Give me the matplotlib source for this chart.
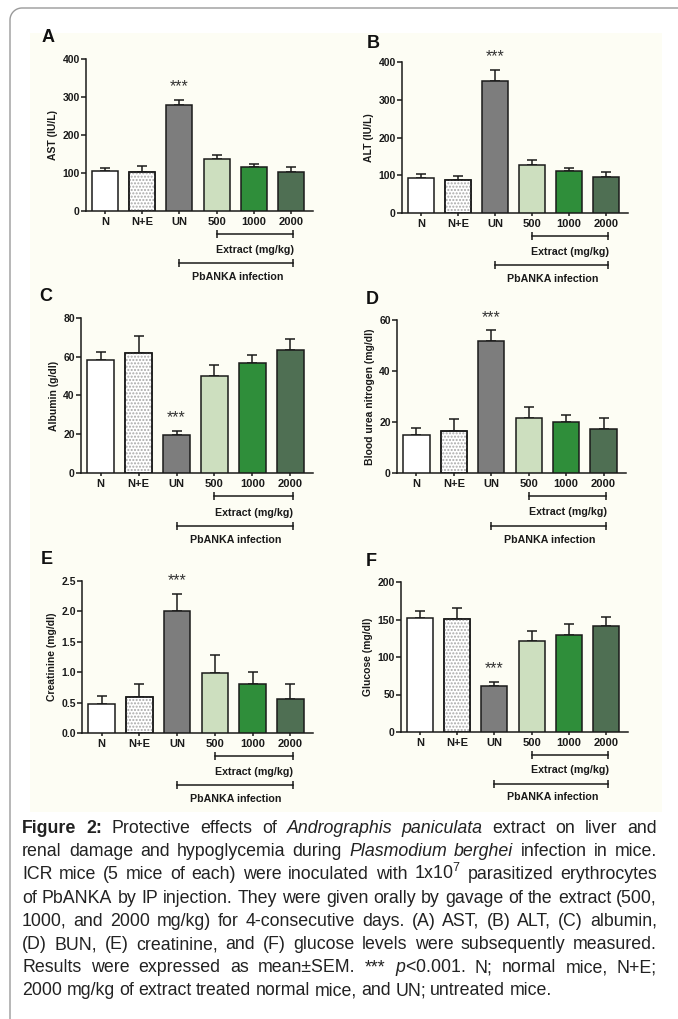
import numpy as np
import matplotlib.pyplot as plt
from matplotlib import font_manager
from matplotlib.lines import Line2D
from matplotlib.patches import Rectangle
from matplotlib.transforms import blended_transform_factory

W, H = 678, 1019

# groups on the x axis and bar fill colours
groups = ['N', 'N+E', 'UN', '500', '1000', '2000']
bar_colors = ['#ffffff', '#ffffff', '#7d7d7d', '#cddfbf', '#2f8e3a', '#4f6f53']

# values (mean, SEM)
ast_mean = [104, 103, 278, 138, 116, 103]
ast_sem = [9, 15, 14, 9, 9, 12]
alt_mean = [94, 88, 350, 127, 110, 95]
alt_sem = [8, 10, 30, 14, 8, 13]
alb_mean = [58.4, 61.8, 19.5, 50.1, 56.6, 63.4]
alb_sem = [4.3, 8.8, 2.3, 5.7, 4.5, 5.9]
bun_mean = [15.0, 16.6, 51.6, 21.7, 20.0, 17.4]
bun_sem = [2.8, 4.4, 4.3, 4.3, 2.7, 4.3]
cre_mean = [0.47, 0.60, 2.01, 0.99, 0.80, 0.56]
cre_sem = [0.14, 0.20, 0.28, 0.29, 0.21, 0.24]
glu_mean = [152, 151, 62, 122, 129, 142]
glu_sem = [10, 15, 4.5, 13, 14.5, 11.5]

installed = {f.name for f in font_manager.fontManager.ttflist}
CAP_FONT = 'Liberation Sans Narrow' if 'Liberation Sans Narrow' in installed else 'Liberation Sans'

plt.rcParams['font.family'] = ['Liberation Sans', 'DejaVu Sans']
plt.rcParams['mathtext.fontset'] = 'custom'
plt.rcParams['mathtext.rm'] = CAP_FONT
plt.rcParams['mathtext.it'] = CAP_FONT + ':italic'
plt.rcParams['mathtext.bf'] = CAP_FONT + ':bold'

INK = '#1a1a1a'


def px_rect(l, t, r, b):
    return [l / W, 1 - b / H, (r - l) / W, (b - t) / H]


def draw_panel(fig, rect, letter, letter_xy, ylabel, means, sems, ymax, ystep, fmt):
    ax = fig.add_axes(px_rect(*rect))
    ax.set_facecolor('none')
    x = np.arange(len(groups))

    ax.errorbar(x, means, yerr=[np.zeros(len(x)), sems], fmt='none', ecolor=INK,
                elinewidth=1.1, capsize=3.5, capthick=1.1, zorder=2)
    ax.bar(x, means, width=0.7, color=bar_colors, edgecolor=INK, linewidth=1.1, zorder=3)
    # dotted fill of the N+E bar
    ax.bar(x[1], means[1], width=0.7, fill=False, edgecolor='#a8a8a8', hatch='.....',
           linewidth=0, zorder=4)
    ax.bar(x[1], means[1], width=0.7, fill=False, edgecolor=INK, linewidth=1.1, zorder=5)

    top = means[2] + sems[2]
    ax.annotate('***', (2, top), xytext=(0, 4), textcoords='offset points',
                ha='center', va='bottom', fontsize=11.5, color='#333333')

    ax.set_xlim(-0.52, 5.6)
    ax.set_ylim(0, ymax)
    ticks = np.arange(0, ymax + ystep / 2, ystep)
    ax.set_yticks(ticks, [fmt % v for v in ticks], fontweight='bold', fontsize=7.5)
    ax.set_xticks(x, groups, fontweight='bold', fontsize=8)
    for side in ['top', 'right']:
        ax.spines[side].set_visible(False)
    for side in ['left', 'bottom']:
        ax.spines[side].set_linewidth(1.1)
        ax.spines[side].set_color(INK)
    ax.tick_params(axis='y', length=3.5, width=1.1, pad=1, colors=INK)
    ax.tick_params(axis='x', length=2.5, width=1.1, pad=2, colors=INK)
    ax.set_ylabel(ylabel, fontsize=7.5, fontweight='bold', labelpad=3, color=INK)

    # group brackets under the axis
    tr = blended_transform_factory(ax.transData, ax.transAxes)
    for x0, yb, label, xl, yl in [(3, -0.15, 'Extract (mg/kg)', 4.04, -0.255),
                                  (2, -0.345, 'PbANKA infection', 3.56, -0.435)]:
        ax.plot([x0, 5.07], [yb, yb], color=INK, lw=1.1, transform=tr, clip_on=False)
        ax.plot([x0, 5.07], [yb, yb], ls='none', marker='|', ms=6, mew=1.1,
                color=INK, transform=tr, clip_on=False)
        ax.text(xl, yl, label, transform=tr, ha='center', va='center',
                fontsize=7.7, fontweight='bold', color=INK)

    fig.text(letter_xy[0] / W, 1 - letter_xy[1] / H, letter, fontsize=13,
             fontweight='bold', ha='center', va='center', color='#111111')
    return ax


fig = plt.figure(figsize=(W / 100, H / 100), dpi=100)
fig.patch.set_facecolor('white')

# light cream background behind the panels
fig.add_artist(Rectangle((30 / W, 1 - 812 / H), 632 / W, 779 / H, transform=fig.transFigure,
                         facecolor='#fdfdf4', edgecolor='none', zorder=-5))

# rounded frame (top and left edges visible)
rad = 12
t = np.linspace(np.pi, np.pi / 2, 20)
fx = np.concatenate([[10], 10 + rad + rad * np.cos(t), [W + 20]])
fy = np.concatenate([[H + 20], 8 + rad - rad * np.sin(t), [8]])
fig.add_artist(Line2D(fx / W, 1 - fy / H, color='#9a9a9a', lw=1.0, transform=fig.transFigure))

draw_panel(fig, (86, 59, 313, 211), 'A', (48, 38), 'AST (IU/L)', ast_mean, ast_sem, 400, 100, '%d')
draw_panel(fig, (402, 62, 628, 213), 'B', (373, 43), 'ALT (IU/L)', alt_mean, alt_sem, 400, 100, '%d')
draw_panel(fig, (81, 318, 313, 473), 'C', (46, 297), 'Albumin (g/dl)', alb_mean, alb_sem, 80, 20, '%d')
draw_panel(fig, (397, 320, 626, 473), 'D', (372, 299), 'Blood urea nitrogen (mg/dl)', bun_mean, bun_sem, 60, 20, '%d')
draw_panel(fig, (82, 581, 313, 733), 'E', (47, 559), 'Creatinine (mg/dl)', cre_mean, cre_sem, 2.5, 0.5, '%.1f')
draw_panel(fig, (401, 582, 628, 732), 'F', (371, 562), 'Glucose (mg/dl)', glu_mean, glu_sem, 200, 50, '%d')

# caption: words prefixed with "b:" are bold, "i:" italic
caption = [
    "b:Figure b:2: Protective effects of i:Andrographis i:paniculata extract on liver and",
    "renal damage and hypoglycemia during i:Plasmodium i:berghei infection in mice.",
    "ICR mice (5 mice of each) were inoculated with 1x10${}^7$ parasitized erythrocytes",
    "of PbANKA by IP injection. They were given orally by gavage of the extract (500,",
    "1000, and 2000 mg/kg) for 4-consecutive days. (A) AST, (B) ALT, (C) albumin,",
    "(D) BUN, (E) creatinine, and (F) glucose levels were subsequently measured.",
    r"Results were expressed as mean±SEM. *** $\mathit{p}$<0.001. N; normal mice, N+E;",
    "2000 mg/kg of extract treated normal mice, and UN; untreated mice.",
]
renderer = fig.canvas.get_renderer()
left, right = 22, 657

# size the caption font so the tightest line just fills the width
probe = fig.text(0, 0, caption[3], fontsize=12, family=CAP_FONT)
cap_size = 12 * (right - left - 4) / probe.get_window_extent(renderer).width
probe.remove()

for i, line in enumerate(caption):
    y = 1 - (833 + i * 23.2) / H
    texts = []
    for word in line.split(' '):
        style = {}
        if word.startswith('b:'):
            word, style = word[2:], {'fontweight': 'bold'}
        elif word.startswith('i:'):
            word, style = word[2:], {'fontstyle': 'italic'}
        texts.append(fig.text(0, y, word, fontsize=cap_size, family=CAP_FONT, ha='left',
                              va='baseline', color='#222222', **style))
    widths = [tx.get_window_extent(renderer).width for tx in texts]
    if i < len(caption) - 1:
        gap = (right - left - sum(widths)) / (len(texts) - 1)
    else:
        gap = cap_size * 100 / 72 * 0.25
    xpos = left
    for tx, w in zip(texts, widths):
        tx.set_x(xpos / W)
        xpos += w + gap

fig.savefig('out.png', dpi=100)
